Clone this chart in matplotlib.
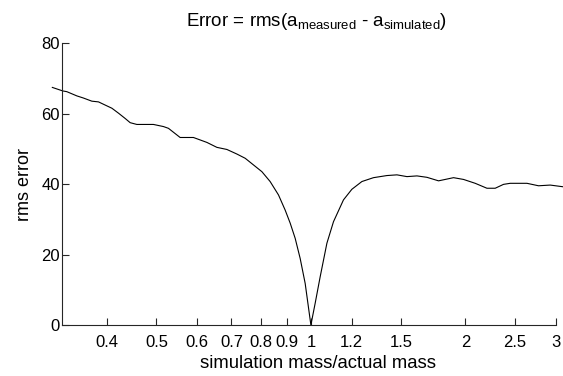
import matplotlib
matplotlib.use("Agg")
import matplotlib.pyplot as plt
from matplotlib.ticker import FixedLocator, FixedFormatter, NullLocator

plt.rcParams['font.family'] = ['Liberation Sans', 'DejaVu Sans']
plt.rcParams['mathtext.fontset'] = 'custom'
plt.rcParams['mathtext.rm'] = 'Liberation Sans'
plt.rcParams['mathtext.it'] = 'Liberation Sans'

mass_ratio = [0.3134, 0.3285, 0.3344, 0.3498, 0.3602, 0.3742, 0.3855, 0.3972, 0.4094,
              0.4217, 0.4345, 0.4444, 0.4579, 0.4933, 0.5160, 0.5277, 0.5561, 0.5903,
              0.6271, 0.6558, 0.6860, 0.7175, 0.7447, 0.7731, 0.8026, 0.8329, 0.8647,
              0.8910, 0.9113, 0.9319, 0.9530, 0.9747, 1.0,
              1.0195, 1.0426, 1.0745, 1.1067, 1.1575, 1.2018, 1.2571, 1.3243, 1.4066,
              1.4713, 1.5390, 1.6097, 1.6835, 1.7734, 1.8274, 1.8967, 1.9838, 2.0906,
              2.2035, 2.2870, 2.3737, 2.4461, 2.6371, 2.7778, 2.9275, 3.1085]
rms_error = [67.4, 66.4, 66.2, 65.0, 64.4, 63.5, 63.3, 62.4, 61.5,
             60.1, 58.6, 57.4, 56.9, 56.9, 56.3, 55.8, 53.2, 53.2,
             51.8, 50.4, 49.8, 48.5, 47.3, 45.4, 43.5, 40.7, 36.9,
             32.6, 28.9, 24.6, 18.9, 11.8, 0.0,
             6.2, 13.7, 23.2, 29.3, 35.5, 38.5, 40.7, 41.8, 42.4,
             42.6, 42.1, 42.3, 41.9, 40.9, 41.3, 41.8, 41.3, 40.2,
             38.8, 38.8, 39.9, 40.2, 40.2, 39.5, 39.7, 39.2]

x_ticks = [0.4, 0.5, 0.6, 0.7, 0.8, 0.9, 1, 1.2, 1.5, 2, 2.5, 3]
x_tick_labels = ['0.4', '0.5', '0.6', '0.7', '0.8', '0.9', '1', '1.2', '1.5', '2', '2.5', '3']
y_ticks = [0, 20, 40, 60, 80]

fig = plt.figure(figsize=(5.63, 3.76), dpi=100)
ax = fig.add_axes([0.111, 0.1356, 0.876, 0.750])
ax.plot(mass_ratio, rms_error, color='black', linewidth=0.8, clip_on=False)
ax.set_xscale('log')
ax.set_xlim(0.328, 3.0)
ax.set_ylim(0, 80)
ax.xaxis.set_major_locator(FixedLocator(x_ticks))
ax.xaxis.set_major_formatter(FixedFormatter(x_tick_labels))
ax.xaxis.set_minor_locator(NullLocator())
ax.set_yticks(y_ticks)
ax.spines['top'].set_visible(False)
ax.spines['right'].set_visible(False)
for s in ['left', 'bottom']:
    ax.spines[s].set_linewidth(0.8)
    ax.spines[s].set_color('#262626')
ax.tick_params(direction='in', length=5, width=0.8, labelsize=12, color='#262626')
ax.tick_params(axis='x', pad=7)
ax.tick_params(axis='y', pad=2)
ax.set_xlabel('simulation mass/actual mass', fontsize=13.3, labelpad=4)
ax.xaxis.label.set_x(0.519)
ax.set_ylabel('rms error', fontsize=13, labelpad=6)
ax.set_title(r'Error = rms(a$_{\mathrm{measured}}$ - a$_{\mathrm{simulated}}$)',
             fontsize=13.5, pad=12, x=0.515)

fig.savefig('out.png', dpi=100)
